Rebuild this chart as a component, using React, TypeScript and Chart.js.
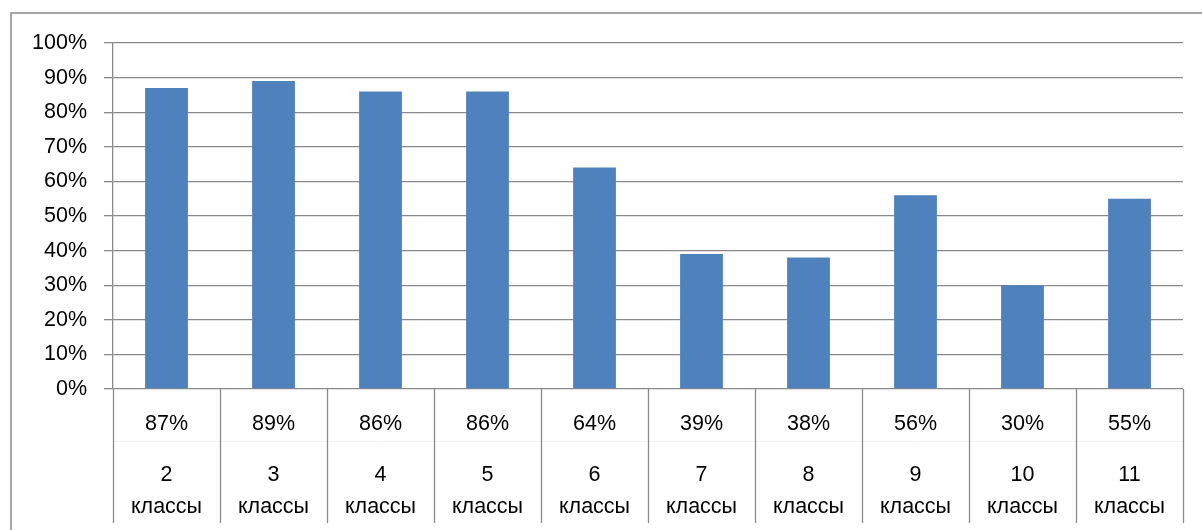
import React, { useEffect, useRef } from "react";
import { Chart, registerables } from "chart.js";

Chart.register(...registerables);

const categoryNumbers = ["2", "3", "4", "5", "6", "7", "8", "9", "10", "11"];
const categoryWord = "классы";
const values = [87, 89, 86, 86, 64, 39, 38, 56, 30, 55];
const valueLabels = ["87%", "89%", "86%", "86%", "64%", "39%", "38%", "56%", "30%", "55%"];

const FONT = "'Liberation Sans', 'Noto Sans', sans-serif";
const GRID = "#8a8a8a";

const tablePlugin = {
  id: "dataTable",
  beforeDraw(chart: any) {
    const { ctx } = chart;
    ctx.save();
    ctx.fillStyle = "#ffffff";
    ctx.fillRect(0, 0, chart.width, chart.height);
    ctx.strokeStyle = "#8a8a8a";
    ctx.lineWidth = 1.5;
    ctx.strokeRect(11, 13, chart.width + 10, chart.height + 10);
    ctx.restore();
  },
  afterDraw(chart: any) {
    const { ctx, chartArea } = chart;
    const x = chart.scales.x;
    const bottom = chartArea.bottom;
    const tableBottom = 523;
    ctx.save();
    const n = categoryNumbers.length;
    const step = x.getPixelForValue(1) - x.getPixelForValue(0);
    // faint row separator
    ctx.strokeStyle = "#f3f3f3";
    ctx.lineWidth = 1;
    ctx.beginPath();
    ctx.moveTo(chartArea.left, 441.5);
    ctx.lineTo(chartArea.right, 441.5);
    ctx.stroke();
    // vertical lines
    ctx.strokeStyle = GRID;
    ctx.lineWidth = 1.3;
    for (let i = 0; i <= n; i++) {
      const px = Math.round(x.getPixelForValue(i) - step / 2) + 0.5;
      ctx.beginPath();
      ctx.moveTo(px, bottom);
      ctx.lineTo(px, tableBottom);
      ctx.stroke();
    }
    ctx.fillStyle = "#000000";
    ctx.font = `21.5px ${FONT}`;
    ctx.textAlign = "center";
    ctx.textBaseline = "middle";
    for (let i = 0; i < n; i++) {
      const cx = x.getPixelForValue(i);
      ctx.fillText(valueLabels[i], cx, 424);
      ctx.fillText(categoryNumbers[i], cx, 475);
      ctx.fillText(categoryWord, cx, 507);
    }
    ctx.restore();
  },
};

export default function App() {
  const ref = useRef<HTMLCanvasElement>(null);
  useEffect(() => {
    document.body.style.margin = "0";
    const chart = new Chart(ref.current as HTMLCanvasElement, {
      type: "bar",
      data: {
        labels: categoryNumbers.map((c) => `${c} ${categoryWord}`),
        datasets: [
          {
            data: values,
            backgroundColor: "#4f81bd",
            barPercentage: 0.4,
            categoryPercentage: 1,
          },
        ],
      },
      options: {
        animation: false,
        responsive: false,
        maintainAspectRatio: false,
        layout: { padding: { left: 0, top: 43, right: 19, bottom: 141 } },
        plugins: { legend: { display: false }, tooltip: { enabled: false } },
        scales: {
          x: { display: false },
          y: {
            min: 0,
            max: 100,
            afterFit: (s: any) => {
              s.width = 113;
            },
            ticks: {
              stepSize: 10,
              padding: 17,
              color: "#000000",
              font: { family: FONT, size: 21.5 },
              callback: (v: any) => `${v}%`,
            },
            grid: { color: GRID, lineWidth: 1.3, tickLength: 9, drawTicks: true },
            border: { display: true, color: GRID, width: 1.3 },
          },
        },
      },
      plugins: [tablePlugin],
    });
    return () => chart.destroy();
  }, []);
  return (
    <div style={{ position: "absolute", left: 0, top: 0, width: 1202, height: 530 }}>
      <canvas ref={ref} width={1202} height={530} style={{ width: 1202, height: 530 }} />
    </div>
  );
}
